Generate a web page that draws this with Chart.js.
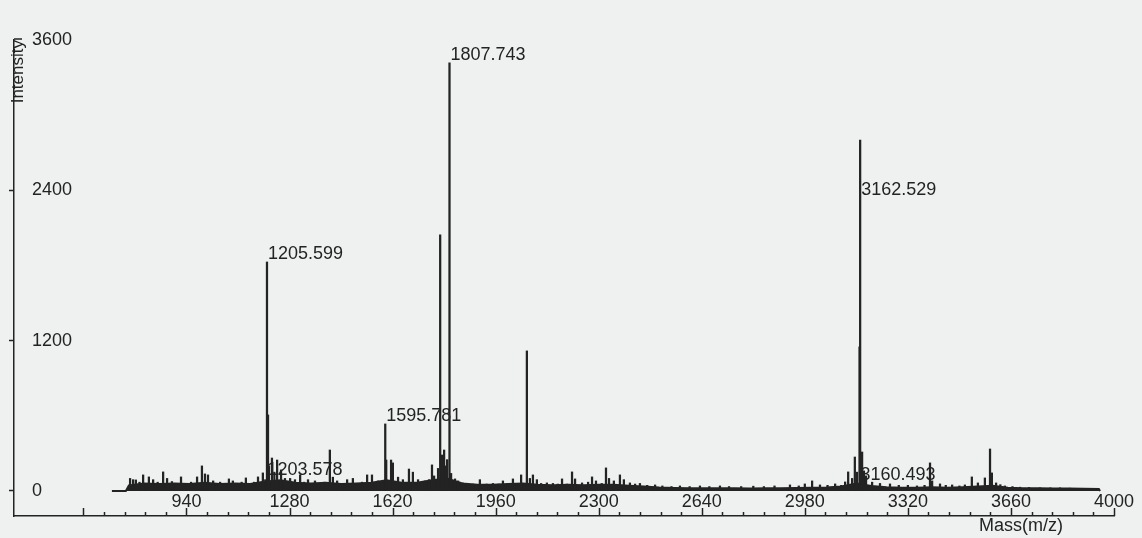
<!DOCTYPE html>
<html><head><meta charset="utf-8">
<script src="https://cdn.jsdelivr.net/npm/chart.js@4.4.1/dist/chart.umd.min.js"></script>
<style>html,body{margin:0;padding:0;background:#eff1f1;}canvas{display:block}</style>
</head><body>
<canvas id="c" width="1142" height="538"></canvas>
<script>
// ---- data ----
const peakMasses = [754,764,773,785,797,805,816,830,845,863,876,892,905,922,940,955,975,991,1001,1011,1028,1040,1051,1065,1080,1093,1110,1122,1136,1150,1163,1176,1192,1200,1205.599,1209,1212,1222,1230,1239,1252,1265,1282,1298,1315,1328,1341,1364,1380,1395,1413,1423,1437,1455,1470,1489,1505,1519,1536,1552,1572,1585,1595.781,1599,1615,1621,1638,1654,1674,1687,1704,1715,1727,1740,1750,1757,1770,1777,1783,1790,1796,1800,1807.743,1813,1826,1836,1852,1869,1885,1908,1930,1951,1970,1984,2000,2017,2030,2044,2063,2073,2083,2096,2110,2129,2149,2165,2179,2195,2212,2222,2245,2265,2278,2291,2310,2324,2334,2350,2370,2383,2403,2420,2436,2460,2486,2510,2540,2568,2600,2634,2665,2700,2730,2770,2810,2845,2880,2931,2960,2980,3004,3030,3055,3080,3100,3113,3123,3136,3145,3152,3160.493,3162.529,3165,3169,3175,3182,3202,3228,3261,3290,3320,3350,3375,3393,3400,3426,3445,3466,3490,3508,3531,3551,3574,3591,3597,3611,3625,3640,3665,3690,3720,3756,3790,3822,3855,3888,3920,3947];
const peakIntensities = [100,90,88,70,128,60,112,90,70,152,100,75,60,112,60,70,112,200,136,128,80,60,70,60,96,80,60,70,104,60,70,112,144,90,1828,607,200,263,150,247,168,100,100,90,128,70,90,80,60,70,327,110,80,60,90,100,60,70,128,128,80,70,535,247,247,224,110,90,175,150,90,70,80,90,208,120,180,2044,287,327,200,250,3417,140,96,80,64,60,55,90,55,60,55,80,55,96,60,128,1118,100,128,90,60,64,60,55,96,55,152,96,64,70,112,80,60,184,100,80,128,90,64,55,60,45,48,40,35,40,35,40,35,40,35,35,38,35,40,48,40,56,80,48,45,56,45,72,152,100,271,150,1150,2802,303,311,160,120,70,60,56,45,45,40,45,224,80,56,45,48,40,48,112,64,104,335,144,64,50,40,35,30,28,25,25,25,22,20,20,20];
const noiseMasses = [694,740,750,800,850,900,950,1000,1050,1100,1150,1200,1250,1300,1350,1400,1450,1500,1550,1600,1650,1700,1750,1800,1850,1900,1950,2000,2050,2100,2150,2200,2250,2300,2350,2400,2450,2500,2550,2600,2650,2700,2750,2800,2850,2900,2950,3000,3050,3100,3150,3200,3250,3300,3350,3400,3450,3500,3550,3600,3650,3700,3750,3800,3850,3900,3950,3954];
const noiseLevels = [0,0,45,60,55,60,55,65,55,60,55,75,85,65,60,65,55,60,65,85,65,65,85,100,60,50,50,55,60,50,45,50,45,50,50,42,35,28,24,22,22,22,22,20,22,22,24,26,28,35,60,40,30,26,26,30,26,30,36,42,26,22,22,20,20,18,16,0];
const labelTexts = ['1205.599','1807.743','1595.781','1203.578','3162.529','3160.493'];
const labelMasses = [1205.599,1807.743,1595.781,1203.578,3162.529,3160.493];
const labelHeights = [1828,3417,535,104,2339,64];
const xTickValues = [940,1280,1620,1960,2300,2640,2980,3320,3660,4000];
const yTickValues = [0,1200,2400,3600];
const xAxisTitle = 'Mass(m/z)';
const yAxisTitle = 'Intensity';
const xMinorStart = 600, xMinorStep = 68, xMajorStep = 340;

const INK = '#232323';
const FONT = "'Liberation Sans', Arial, sans-serif";

const decor = {
  id: 'decor',
  afterDraw(chart) {
    const {ctx, chartArea: ca, scales: {x, y}} = chart;
    ctx.save();
    ctx.strokeStyle = INK; ctx.lineWidth = 1.5;
    for (let v = xMinorStart; v <= x.max + 0.01; v += xMinorStep) {
      const px = Math.round(x.getPixelForValue(v)) + 0.5;
      const major = (v - xMinorStart) % xMajorStep === 0;
      ctx.beginPath(); ctx.moveTo(px, ca.bottom); ctx.lineTo(px, ca.bottom - (major ? 8 : 4)); ctx.stroke();
    }
    // small top mark of the y axis
    ctx.beginPath(); ctx.moveTo(ca.left, ca.top - 1); ctx.lineTo(ca.left + 8, ca.top - 1); ctx.stroke();
    ctx.fillStyle = INK;
    ctx.font = '18px ' + FONT;
    ctx.textAlign = 'right'; ctx.textBaseline = 'middle';
    ctx.fillText(xAxisTitle, ca.right - 51, 526);
    ctx.restore();
  },
  afterDatasetsDraw(chart) {
    const {ctx, scales: {x, y}} = chart;
    ctx.save();
    ctx.fillStyle = INK;
    ctx.font = '18px ' + FONT;
    ctx.textAlign = 'left'; ctx.textBaseline = 'alphabetic';
    labelTexts.forEach((t, i) => {
      ctx.fillText(t, x.getPixelForValue(labelMasses[i]) + 1, y.getPixelForValue(labelHeights[i]) - 3);
    });
    ctx.restore();
  }
};

new Chart(document.getElementById('c'), {
  type: 'bar',
  data: {
    datasets: [
      {
        type: 'bar',
        data: peakMasses.map((m, i) => ({x: m, y: peakIntensities[i]})),
        backgroundColor: INK,
        borderWidth: 0,
        barThickness: 1.6,
        order: 0
      },
      {
        type: 'line',
        data: noiseMasses.map((m, i) => ({x: m, y: noiseLevels[i]})),
        borderColor: INK,
        borderWidth: 2,
        backgroundColor: INK,
        fill: 'origin',
        pointRadius: 0,
        tension: 0,
        order: 1
      }
    ]
  },
  options: {
    responsive: false,
    animation: false,
    events: [],
    layout: {padding: {top: 40, right: 28, left: 0, bottom: 0}},
    plugins: {legend: {display: false}, tooltip: {enabled: false}},
    scales: {
      x: {
        type: 'linear', position: 'bottom', min: 371, max: 4000, offset: false,
        afterBuildTicks: s => { s.ticks = xTickValues.map(v => ({value: v})); },
        afterFit: s => { s.height = 22; },
        grid: {display: false, drawTicks: false},
        border: {display: true, color: INK, width: 1.5},
        ticks: {mirror: true, padding: 3, autoSkip: false, maxRotation: 0, color: INK,
                font: {size: 18, family: FONT}, callback: v => String(v)}
      },
      y: {
        type: 'linear', position: 'left', min: -200, max: 3600,
        afterBuildTicks: s => { s.ticks = yTickValues.map(v => ({value: v})); },
        afterFit: s => { s.width = 14; s.paddingTop = 0; s.paddingBottom = 0; },
        grid: {display: true, drawOnChartArea: false, drawTicks: true, tickLength: 5, tickWidth: 1.5,
               tickColor: c => (c.tick && c.tick.value === 3600) ? 'rgba(0,0,0,0)' : INK},
        border: {display: true, color: INK, width: 1.5, dash: [3, 72, 2000, 0]},
        title: {display: true, text: yAxisTitle, align: 'end', color: INK,
                font: {size: 17, family: FONT}, padding: {top: 8, bottom: 0}},
        ticks: {mirror: true, padding: 18, color: INK, font: {size: 18, family: FONT},
                callback: v => String(v)}
      }
    }
  },
  plugins: [decor]
});
</script>
</body></html>
